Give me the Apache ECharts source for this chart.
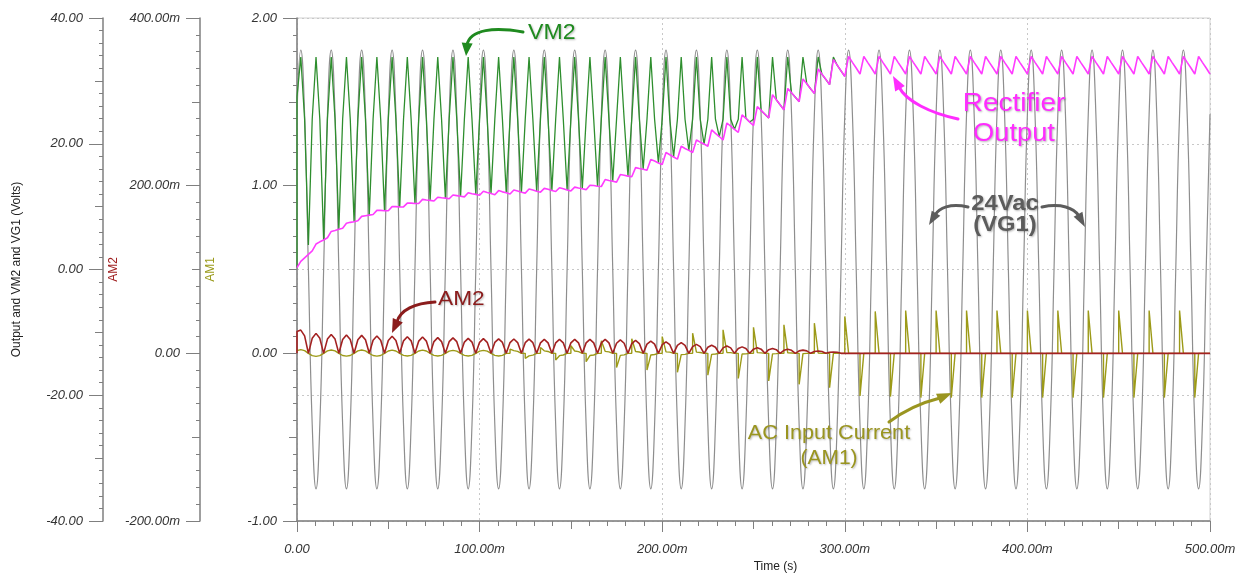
<!DOCTYPE html>
<html><head><meta charset="utf-8">
<script src="https://cdn.jsdelivr.net/npm/echarts@6/dist/echarts.min.js"></script>
<style>html,body{margin:0;padding:0;background:#fff}#c{width:1257px;height:578px}</style>
</head><body><div id="c"></div>
<script>
// ---- sample grid: 1/8 of a 60 Hz cycle, 0 .. 500 ms ----
const sampleStepMs = 500 / 240;
const timeMs = Array.from({length: 241}, (_, k) => Math.round(k * sampleStepMs * 1000) / 1000);

// VG1 (24 Vac source), volts
const vg1Volts = [
24.7,34.9,24.7,0,-24.7,-34.9,-24.7,0, 24.7,34.9,24.7,0,-24.7,-34.9,-24.7,0,
24.7,34.9,24.7,0,-24.7,-34.9,-24.7,0, 24.7,34.9,24.7,0,-24.7,-34.9,-24.7,0,
24.7,34.9,24.7,0,-24.7,-34.9,-24.7,0, 24.7,34.9,24.7,0,-24.7,-34.9,-24.7,0,
24.7,34.9,24.7,0,-24.7,-34.9,-24.7,0, 24.7,34.9,24.7,0,-24.7,-34.9,-24.7,0,
24.7,34.9,24.7,0,-24.7,-34.9,-24.7,0, 24.7,34.9,24.7,0,-24.7,-34.9,-24.7,0,
24.7,34.9,24.7,0,-24.7,-34.9,-24.7,0, 24.7,34.9,24.7,0,-24.7,-34.9,-24.7,0,
24.7,34.9,24.7,0,-24.7,-34.9,-24.7,0, 24.7,34.9,24.7,0,-24.7,-34.9,-24.7,0,
24.7,34.9,24.7,0,-24.7,-34.9,-24.7,0, 24.7,34.9,24.7,0,-24.7,-34.9,-24.7,0,
24.7,34.9,24.7,0,-24.7,-34.9,-24.7,0, 24.7,34.9,24.7,0,-24.7,-34.9,-24.7,0,
24.7,34.9,24.7,0,-24.7,-34.9,-24.7,0, 24.7,34.9,24.7,0,-24.7,-34.9,-24.7,0,
24.7,34.9,24.7,0,-24.7,-34.9,-24.7,0, 24.7,34.9,24.7,0,-24.7,-34.9,-24.7,0,
24.7,34.9,24.7,0,-24.7,-34.9,-24.7,0, 24.7,34.9,24.7,0,-24.7,-34.9,-24.7,0,
24.7,34.9,24.7,0,-24.7,-34.9,-24.7,0, 24.7,34.9,24.7,0,-24.7,-34.9,-24.7,0,
24.7,34.9,24.7,0,-24.7,-34.9,-24.7,0, 24.7,34.9,24.7,0,-24.7,-34.9,-24.7,0,
24.7,34.9,24.7,0,-24.7,-34.9,-24.7,0, 24.7,34.9,24.7,0,-24.7,-34.9,-24.7,0,
24.7];

// Rectifier output, volts
const rectifierVolts = [
0.3,1.3,1.85,2.4, 2.95,4.05,4.4,4.7, 5.05,6.05,6.2,6.4, 6.55,7.35,7.5,7.6,
7.75,8.45,8.55,8.65, 8.75,9.4,9.4,9.35, 9.35,10.0,10.0,9.95, 9.95,10.55,10.55,10.5,
10.5,11.15,11.05,11.0, 10.9,11.5,11.4,11.35, 11.25,11.85,11.75,11.65, 11.55,12.2,12.05,11.95,
11.8,12.45,12.25,12.1, 11.9,12.55,12.35,12.2, 12.0,12.65,12.5,12.3, 12.15,12.8,12.65,12.45,
12.3,12.9,12.75,12.55, 12.4,13.0,12.85,12.65, 12.5,13.1,12.95,12.85, 12.7,13.4,13.35,13.25,
13.2,14.3,14.15,14.05, 13.9,15.1,15.0,14.85, 14.75,16.2,16.05,15.95, 15.8,17.5,17.25,16.95,
16.7,18.6,18.25,17.9, 17.55,19.6,19.25,18.95, 18.6,20.6,20.25,19.95, 19.6,22.2,21.65,21.15,
20.6,23.3,22.8,22.3, 21.8,24.6,24.05,23.45, 22.9,25.9,25.3,24.7, 24.1,27.8,27.0,26.2,
25.4,28.8,28.1,27.4, 26.7,30.3,29.55,28.75, 28.0,31.9,31.05,30.25, 29.4,33.4,32.5,31.6,
30.7,33.9,32.95,32.05, 31.1,33.9,32.95,32.05, 31.1,33.9,32.95,32.05, 31.1,33.9,32.95,32.05,
31.1,33.9,32.95,32.05, 31.1,33.9,32.95,32.05, 31.1,33.9,32.95,32.05, 31.1,33.9,32.95,32.05,
31.1,33.9,32.95,32.05, 31.1,33.9,32.95,32.05, 31.1,33.9,32.95,32.05, 31.1,33.9,32.95,32.05,
31.1,33.9,32.95,32.05, 31.1,33.9,32.95,32.05, 31.1,33.9,32.95,32.05, 31.1,33.9,32.95,32.05,
31.1,33.9,32.95,32.05, 31.1,33.9,32.95,32.05, 31.1,33.9,32.95,32.05, 31.1,33.9,32.95,32.05,
31.1,33.9,32.95,32.05, 31.1,33.9,32.95,32.05, 31.1,33.9,32.95,32.05, 31.1,33.9,32.95,32.05,
31.1];

// VM2, volts (starts at 0.3 V at t = 0, then follows the samples)
const vm2StartVolts = 0.3;
const vm2Volts = [
27.5,33.8,23.9,3.9, 23.9,33.8,23.9,4.7, 23.9,33.8,23.9,6.4, 23.9,33.8,23.9,7.6,
23.9,33.8,23.9,8.65, 23.9,33.8,23.9,9.35, 23.9,33.8,23.9,9.95, 23.9,33.8,23.9,10.5,
23.9,33.8,23.9,11.0, 23.9,33.8,23.9,11.35, 23.9,33.8,23.9,11.65, 23.9,33.8,23.9,11.95,
23.9,33.8,23.9,12.1, 23.9,33.8,23.9,12.2, 23.9,33.8,23.9,12.3, 23.9,33.8,23.9,12.45,
23.9,33.8,23.9,12.55, 23.9,33.8,23.9,12.65, 23.9,33.8,23.9,12.85, 23.9,33.8,23.9,13.25,
23.9,33.8,23.9,14.05, 23.9,33.8,23.9,14.85, 23.9,33.8,23.9,15.95, 23.9,33.8,23.9,16.95,
23.9,33.8,23.9,17.9, 23.9,33.8,23.9,18.95, 23.9,33.8,23.9,19.95, 23.9,33.8,23.9,21.15,
23.9,33.8,23.9,22.3, 23.9,33.8,24.05,23.45, 23.9,33.8,25.3,24.7, 24.1,33.8,27.0,26.2,
25.4,33.8,28.1,27.4, 26.7,33.8,29.55,28.75, 28.0,33.8,31.05,30.25, 29.4,33.8,32.5,31.6,
30.7];

// AM2, milliamps (starts at 0 at t = 0)
const am2StartMilliAmps = 0;
const am2MilliAmps = [
26,27.7,20.8,0, 17.9,23.8,17.9,0, 17.0,22.6,17.0,0, 16.5,22.0,16.5,0,
16.1,21.4,16.1,0, 15.5,20.6,15.5,0, 15.2,20.3,15.2,0, 14.9,19.8,14.9,0,
14.6,19.5,14.6,0, 14.0,18.7,14.0,0, 13.9,18.5,13.9,0, 13.4,17.9,13.4,0,
13.1,17.5,13.1,0, 13.0,17.3,13.0,0, 12.8,17.1,12.8,0, 12.7,16.9,12.7,0,
12.5,16.7,12.5,0, 12.5,16.7,12.5,0, 12.5,16.7,12.5,0, 12.5,16.7,12.5,0,
12.5,16.7,12.5,0, 12.0,16.0,12.0,0, 11.6,15.5,11.6,0, 11.0,14.7,11.0,0,
10.3,13.7,10.3,0, 9.5,12.7,9.5,0, 8.0,10.7,8.0,0, 7.3,9.7,7.3,0,
6.5,8.7,6.5,0, 5.8,7.7,5.8,0, 5.0,6.7,5.0,0, 4.4,5.8,4.4,0,
3.6,4.8,3.6,0, 2.9,3.8,2.9,0, 2.1,2.8,2.1,0, 1.2,1.6,1.2,0,
0,0,0,0, 0,0,0,0, 0,0,0,0, 0,0,0,0, 0,0,0,0, 0,0,0,0,
0,0,0,0, 0,0,0,0, 0,0,0,0, 0,0,0,0, 0,0,0,0, 0,0,0,0,
0,0,0,0, 0,0,0,0, 0,0,0,0, 0,0,0,0, 0,0,0,0, 0,0,0,0,
0,0,0,0, 0,0,0,0, 0,0,0,0, 0,0,0,0, 0,0,0,0, 0,0,0,0,
0];

// AM1 (AC input current), amps
const am1Amps = [
0.016,0.022,0.016,0, -0.014,-0.018,-0.014,0, 0.015,0.02,0.015,0, -0.013,-0.017,-0.013,0,
0.015,0.02,0.015,0, -0.013,-0.017,-0.013,0, 0.014,0.019,0.014,0, -0.012,-0.016,-0.012,0,
0.014,0.019,0.014,0, -0.012,-0.016,-0.012,0, 0.013,0.018,0.013,0, -0.012,-0.016,-0.012,0,
0.013,0.018,0.013,0, -0.012,-0.016,-0.012,0, 0.025,0.016,0.012,0, -0.03,-0.015,-0.011,0,
0.035,0.015,0.011,0, -0.04,-0.014,-0.01,0, 0.045,0.014,0.01,0, -0.05,-0.013,-0.01,0,
0.075,0.012,0.009,0, -0.085,-0.012,-0.009,0, 0.087,0.011,0.008,0, -0.10,-0.01,-0.007,0,
0.10,0.009,0.007,0, -0.113,-0.008,-0.006,0, 0.12,0.007,0.005,0, -0.13,-0.006,-0.004,0,
0.14,0.005,0.004,0, -0.15,-0.004,-0.003,0, 0.155,0.004,0.003,0, -0.165,-0.003,-0.002,0,
0.17,0.003,0.002,0, -0.185,-0.002,0,0, 0.18,0.002,0,0, -0.205,0,0,0,
0.22,0,0,0, -0.254,0,0,0, 0.25,0,0,0, -0.258,0,0,0,
0.255,0,0,0, -0.264,0,0,0, 0.255,0,0,0, -0.264,0,0,0, 0.255,0,0,0, -0.264,0,0,0,
0.255,0,0,0, -0.264,0,0,0, 0.255,0,0,0, -0.264,0,0,0, 0.255,0,0,0, -0.264,0,0,0,
0.255,0,0,0, -0.264,0,0,0, 0.255,0,0,0, -0.264,0,0,0, 0.255,0,0,0, -0.264,0,0,0,
0.255,0,0,0, -0.264,0,0,0,
0];

// axis ticks (labels)
const timeTicksMs = [0, 100, 200, 300, 400, 500];
const voltTicks = [-40, -20, 0, 20, 40];
const am2TicksMilli = [-200, 0, 200, 400];
const am1Ticks = [-1, 0, 1, 2];

// ---------------- chart ----------------
const FONT = '"Liberation Sans", Arial, sans-serif';
const axisGray = '#7f7f7f';
const pairs = (vals, start) => {
  const out = vals.map((v, k) => [timeMs[k], v]);
  if (start !== undefined) out.unshift([timeMs[0], start]);
  return out;
};
// current pulses: the diode turns on abruptly, so each pulse starts with a vertical edge
const pulsePairs = (vals, edgeMin) => {
  const out = [];
  vals.forEach((v, k) => {
    if (k > 0 && vals[k - 1] === 0 && Math.abs(v) >= edgeMin) out.push([timeMs[k], 0]);
    out.push([timeMs[k], v]);
  });
  return out;
};
const fmtPlain = v => v.toFixed(2);
const fmtMilli = v => (v === 0 ? '0.00' : v.toFixed(2) + 'm');
const labelBase = {fontStyle: 'italic', fontSize: 13, color: '#333', fontFamily: FONT, margin: 20};

function mainY(range, interval, offset, fmt, name, nameColor, gap, extra) {
  return Object.assign({
    type: 'value', position: 'left', offset, min: range[0], max: range[1], interval,
    name, nameLocation: 'middle', nameRotate: 90, nameGap: gap, nameMoveOverlap: false,
    nameTextStyle: {color: nameColor, fontSize: 12, fontFamily: FONT},
    axisLine: {show: true, onZero: false, lineStyle: {color: axisGray, width: 1.5}},
    axisTick: {show: true, length: 14, lineStyle: {color: axisGray}},
    minorTick: {show: true, splitNumber: 10, length: 4, lineStyle: {color: axisGray}},
    axisLabel: Object.assign({formatter: fmt}, labelBase),
    splitLine: {show: false}
  }, extra || {});
}
function midY(range, interval, offset) {
  return {type: 'value', position: 'left', offset, min: range[0], max: range[1], interval,
    axisLine: {show: false, onZero: false}, axisTick: {show: true, length: 8, lineStyle: {color: axisGray}},
    axisLabel: {show: false}, splitLine: {show: false}};
}

const option = {
  animation: false,
  backgroundColor: '#fff',
  grid: {left: 297, right: 47, top: 18, bottom: 56, show: true, borderColor: '#d0d0d0', borderWidth: 1},
  xAxis: [
    {type: 'value', min: timeTicksMs[0], max: timeTicksMs[timeTicksMs.length - 1], interval: 100,
     name: 'Time (s)', nameLocation: 'middle', nameGap: 40,
     nameTextStyle: {fontSize: 12, color: '#222', fontFamily: FONT, padding: [0, 0, 0, 44]},
     axisLine: {onZero: false, lineStyle: {color: axisGray, width: 1.5}},
     axisTick: {length: 11, lineStyle: {color: axisGray}},
     minorTick: {show: true, splitNumber: 10, length: 5, lineStyle: {color: axisGray}},
     axisLabel: Object.assign({formatter: fmtMilli}, labelBase, {margin: 22}),
     splitLine: {show: true, lineStyle: {type: [2, 3], color: '#c8c8c8'}}},
    {type: 'value', min: 0, max: 500, interval: 50, position: 'bottom',
     axisLine: {show: false, onZero: false}, axisTick: {length: 8, lineStyle: {color: axisGray}},
     axisLabel: {show: false}, splitLine: {show: false}}
  ],
  yAxis: [
    mainY([voltTicks[0], voltTicks[voltTicks.length - 1]], 20, 194, fmtPlain, 'Output and VM2 and VG1 (Volts)', '#222', 80,
      {splitLine: {show: true, lineStyle: {type: [2, 3], color: '#c8c8c8'}}}),
    midY([-40, 40], 10, 194),
    mainY([am2TicksMilli[0], am2TicksMilli[am2TicksMilli.length - 1]], 200, 97, fmtMilli, 'AM2', '#a02020', 80),
    midY([-200, 400], 100, 97),
    mainY([am1Ticks[0], am1Ticks[am1Ticks.length - 1]], 1, 0, fmtPlain, 'AM1', '#9a9a1a', 80),
    midY([-1, 2], 0.5, 0)
  ],
  series: [
    {name: 'VG1', type: 'line', xAxisIndex: 0, yAxisIndex: 0, data: pairs(vg1Volts), smooth: 0.5,
     showSymbol: false, symbol: 'none', lineStyle: {color: '#8e8e8e', width: 1.2}, z: 2},
    {name: 'VM2', type: 'line', xAxisIndex: 0, yAxisIndex: 0, data: pairs(vm2Volts, vm2StartVolts),
     showSymbol: false, symbol: 'none', lineStyle: {color: '#2e8e2e', width: 1.3}, z: 3},
    {name: 'Rectifier Output', type: 'line', xAxisIndex: 0, yAxisIndex: 0, data: pairs(rectifierVolts),
     showSymbol: false, symbol: 'none', lineStyle: {color: '#ff3cff', width: 1.6}, z: 4},
    {name: 'AM1', type: 'line', xAxisIndex: 0, yAxisIndex: 4, data: pulsePairs(am1Amps, 0.02),
     showSymbol: false, symbol: 'none', lineStyle: {color: '#9c9a18', width: 1.4}, z: 5},
    {name: 'AM2', type: 'line', xAxisIndex: 0, yAxisIndex: 2, data: pairs(am2MilliAmps, am2StartMilliAmps),
     showSymbol: false, symbol: 'none', lineStyle: {color: '#a32121', width: 1.6}, z: 6}
  ]
};

// annotations (callout texts and arrows)
function arrow(p0, c1, c2, p1, tip, color, w, head) {
  const dx = tip[0] - p1[0], dy = tip[1] - p1[1], L = Math.hypot(dx, dy);
  const ux = dx / L, uy = dy / L, nx = -uy, ny = ux, hw = head / 2;
  return [
    {type: 'bezierCurve', silent: true, z: 100,
     shape: {x1: p0[0], y1: p0[1], cpx1: c1[0], cpy1: c1[1], cpx2: c2[0], cpy2: c2[1], x2: p1[0], y2: p1[1]},
     style: {stroke: color, lineWidth: w, fill: null, lineCap: 'round'}},
    {type: 'polygon', silent: true, z: 100,
     shape: {points: [tip, [p1[0] + nx * hw - ux * 2, p1[1] + ny * hw - uy * 2], [p1[0] - nx * hw - ux * 2, p1[1] - ny * hw - uy * 2]]},
     style: {fill: color}}
  ];
}
function callout(text, x, y, color, size, opts) {
  opts = opts || {};
  const align = opts.align || 'center';
  return {type: 'text', x, y, scaleX: opts.sx || 1, silent: true, z: 101,
    style: {text, fill: color, font: (opts.bold ? 'bold ' : '') + size + 'px ' + FONT,
      textAlign: align, textVerticalAlign: 'middle', align, verticalAlign: 'middle',
      textShadowColor: 'rgba(0,0,0,0.28)', textShadowBlur: 2, textShadowOffsetX: 1, textShadowOffsetY: 1}};
}
const green = '#1f8a1f', mag = '#ff2cff', dred = '#8b1c1c', dgray = '#5c5c5c', olive = '#9a9520';
option.graphic = [].concat(
  callout('VM2', 528, 33, green, 22, {align: 'left', sx: 1.05}),
  arrow([523, 32], [495, 27], [470, 29], [467, 45], [466, 56], green, 3, 11),
  callout('AM2', 438, 299, dred, 21, {align: 'left', sx: 1.08}),
  arrow([435, 302], [415, 303], [400, 310], [397, 322], [392, 333], dred, 3, 11),
  callout('Rectifier', 1014, 104, mag, 25, {sx: 1.12}),
  callout('Output', 1014, 134, mag, 25, {sx: 1.09}),
  arrow([958, 119], [930, 113], [906, 101], [899, 87], [893, 76], mag, 3, 11),
  callout('24Vac', 1005, 204, dgray, 22, {bold: true, sx: 1.08}),
  callout('(VG1)', 1005, 225, dgray, 22, {bold: true, sx: 1.08}),
  arrow([968, 207], [950, 203], [939, 208], [935, 215], [929, 225], dgray, 3, 10),
  arrow([1042, 207], [1061, 203], [1074, 208], [1079, 216], [1085, 227], dgray, 3, 10),
  callout('AC Input Current', 829, 433, olive, 21, {sx: 1.03}),
  callout('(AM1)', 829, 458, olive, 21),
  arrow([889, 422], [905, 410], [924, 402], [940, 398], [952, 393], olive, 3, 11)
);

const chart = echarts.init(document.getElementById('c'), null, {renderer: 'canvas'});
chart.setOption(option);
</script>
</body></html>
